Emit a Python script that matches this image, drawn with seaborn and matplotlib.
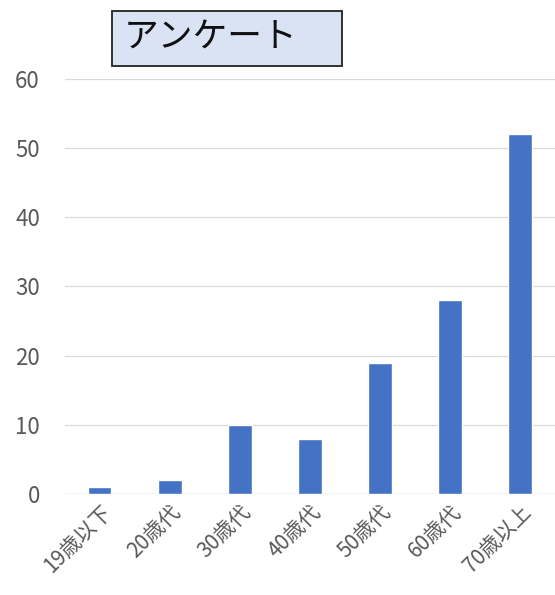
import matplotlib
matplotlib.use("Agg")
import matplotlib.pyplot as plt
from matplotlib.patches import Rectangle
import pandas as pd
import seaborn as sns

# Survey respondents by age group
categories = ["19歳以下", "20歳代", "30歳代", "40歳代", "50歳代", "60歳代", "70歳以上"]
counts = [1, 2, 10, 8, 19, 28, 52]
yticks = [0, 10, 20, 30, 40, 50, 60]
title = "アンケート"

sns.set_theme(style="white")
plt.rcParams["font.family"] = ["Noto Sans CJK JP", "DejaVu Sans"]

df = pd.DataFrame({"age": categories, "n": counts})

fig = plt.figure(figsize=(5.55, 5.95), dpi=100)
ax = fig.add_axes([0.117, 0.170, 0.883, 0.697])
sns.barplot(data=df, x="age", y="n", color="#4472C4", width=0.33,
            saturation=1, ax=ax, zorder=3)

ax.set_ylim(0, 60)
ax.set_yticks(yticks)
ax.yaxis.grid(True, color="#D9D9D9", linewidth=0.9, zorder=0)
ax.set_xlabel("")
ax.set_ylabel("")
for s in ax.spines.values():
    s.set_visible(False)
ax.axhline(0, color="#D9D9D9", linewidth=1.0, zorder=1)
ax.tick_params(axis="both", length=0, colors="#595959")
ax.tick_params(axis="y", labelsize=16, pad=18)
ax.tick_params(axis="x", labelsize=15, pad=5)
plt.setp(ax.get_xticklabels(), rotation=45, ha="right", rotation_mode="anchor")

# title box
fig.patches.append(Rectangle((0.202, 0.889), 0.414, 0.0924,
                             transform=fig.transFigure, facecolor="#DAE3F3",
                             edgecolor="#222222", linewidth=1.3))
fig.text(0.222, 0.937, title, fontsize=25, color="#111111",
         ha="left", va="center")

fig.savefig("out.png", dpi=100)
